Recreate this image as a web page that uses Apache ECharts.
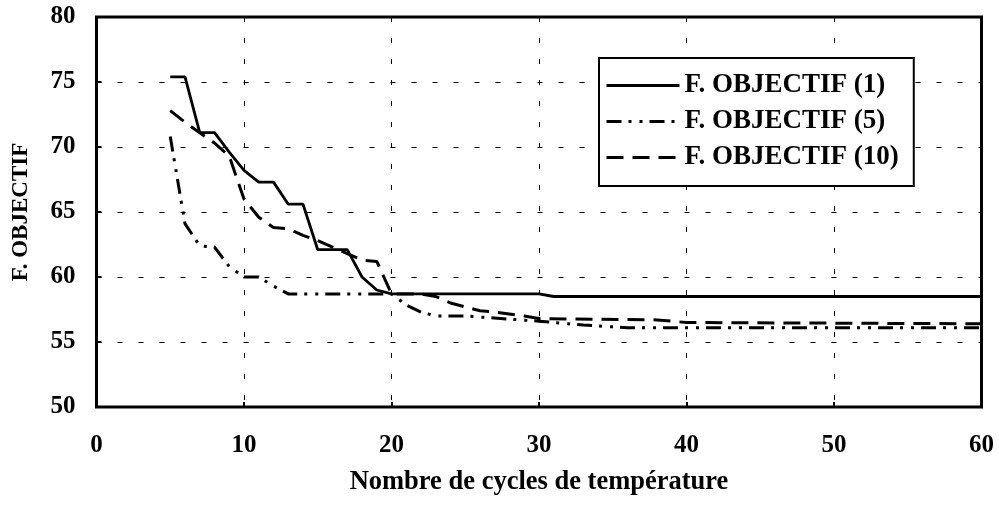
<!DOCTYPE html>
<html>
<head>
<meta charset="utf-8">
<script src="https://cdn.jsdelivr.net/npm/echarts@6/dist/echarts.min.js"></script>
<style>
  html, body { margin: 0; padding: 0; background: #fff; }
  #chart { width: 999px; height: 505px; }
</style>
</head>
<body>
<div id="chart"></div>
<script>
// Objective function versus number of temperature cycles, three runs
const seriesNames = ['F. OBJECTIF (1)', 'F. OBJECTIF (5)', 'F. OBJECTIF (10)'];

const cycles1 = [5, 6, 7, 8, 9, 10, 11, 12, 13, 14, 15, 16, 17, 18, 19, 20, 30, 31, 60];
const values1 = [75.4, 75.4, 71.1, 71.1, 69.6, 68.2, 67.3, 67.3, 65.6, 65.6, 62.1, 62.1, 62.1, 60.0, 59.0, 58.7, 58.7, 58.5, 58.5];

const cycles5 = [5, 6, 7, 8, 9, 10, 11, 12, 13, 20, 21, 22, 23, 25, 30, 33, 36, 60];
const values5 = [70.8, 64.1, 62.4, 62.3, 60.8, 60.0, 60.0, 59.3, 58.7, 58.7, 57.85, 57.3, 57.0, 57.0, 56.6, 56.3, 56.1, 56.1];

const cycles10 = [5, 6, 7, 8, 9, 10, 11, 12, 13, 14, 15, 16, 17, 18, 19, 20, 22, 23, 24, 25, 26, 27, 29, 30, 38, 40, 60];
const values10 = [72.8, 71.9, 71.1, 70.3, 69.3, 66.0, 64.6, 63.8, 63.7, 63.2, 62.8, 62.3, 61.8, 61.3, 61.2, 58.7, 58.7, 58.5, 58.0, 57.7, 57.4, 57.3, 57.0, 56.8, 56.7, 56.5, 56.4];

const xTicks = [0, 10, 20, 30, 40, 50, 60];
const yTicks = [50, 55, 60, 65, 70, 75, 80];

const xTitle = 'Nombre de cycles de température';
const yTitle = 'F. OBJECTIF';

const serif = '"Liberation Serif", "Times New Roman", "DejaVu Serif", serif';

function pairs(xs, ys) {
  return xs.map((x, i) => [x, ys[i]]);
}

const chart = echarts.init(document.getElementById('chart'), null, { renderer: 'canvas' });

const gridDash = { color: '#000', width: 1, type: [5, 16] };

chart.setOption({
  animation: false,
  backgroundColor: '#fff',
  color: ['#000', '#000', '#000'],
  grid: {
    left: 96.5, top: 17, width: 885, height: 390,
    show: true, borderColor: '#000', borderWidth: 3, backgroundColor: 'transparent'
  },
  legend: {
    show: true,
    orient: 'vertical',
    left: 599, top: 58,
    data: seriesNames,
    backgroundColor: '#fff',
    borderColor: '#000',
    borderWidth: 2,
    borderRadius: 0,
    padding: [14, 15, 15, 6],
    itemGap: 9,
    itemWidth: 73,
    itemHeight: 14,
    itemStyle: { opacity: 0 },
    lineStyle: { width: 3 },
    textStyle: { fontFamily: serif, fontWeight: 'bold', fontSize: 27, color: '#000', lineHeight: 26 }
  },
  xAxis: {
    type: 'value', min: xTicks[0], max: xTicks[xTicks.length - 1], interval: 10,
    name: xTitle, nameLocation: 'middle', nameGap: 62,
    nameTextStyle: { fontFamily: serif, fontWeight: 'bold', fontSize: 26.5, color: '#000' },
    axisLine: { show: false },
    axisTick: { show: true, inside: true, length: 5, lineStyle: { color: '#000', width: 2 } },
    axisLabel: { margin: 26, fontFamily: serif, fontWeight: 'bold', fontSize: 25, color: '#000' },
    splitLine: { show: true, lineStyle: gridDash }
  },
  yAxis: {
    type: 'value', min: yTicks[0], max: yTicks[yTicks.length - 1], interval: 5,
    name: yTitle, nameLocation: 'middle', nameGap: 64, nameRotate: 90,
    nameTextStyle: { fontFamily: serif, fontWeight: 'bold', fontSize: 23, color: '#000' },
    axisLine: { show: false },
    axisTick: { show: true, inside: true, length: 5, lineStyle: { color: '#000', width: 2 } },
    axisLabel: { margin: 21, fontFamily: serif, fontWeight: 'bold', fontSize: 25, color: '#000' },
    splitLine: { show: true, lineStyle: gridDash }
  },
  series: [
    {
      name: seriesNames[0], type: 'line', data: pairs(cycles1, values1),
      symbol: 'none', z: 4,
      lineStyle: { color: '#000', width: 2.8, type: 'solid' }
    },
    {
      name: seriesNames[1], type: 'line', data: pairs(cycles5, values5),
      symbol: 'none', z: 3,
      lineStyle: { color: '#000', width: 3, type: [15, 7, 3, 8, 3, 7] }
    },
    {
      name: seriesNames[2], type: 'line', data: pairs(cycles10, values10),
      symbol: 'none', z: 3,
      lineStyle: { color: '#000', width: 3, type: [17, 9] }
    }
  ]
});
</script>
</body>
</html>
